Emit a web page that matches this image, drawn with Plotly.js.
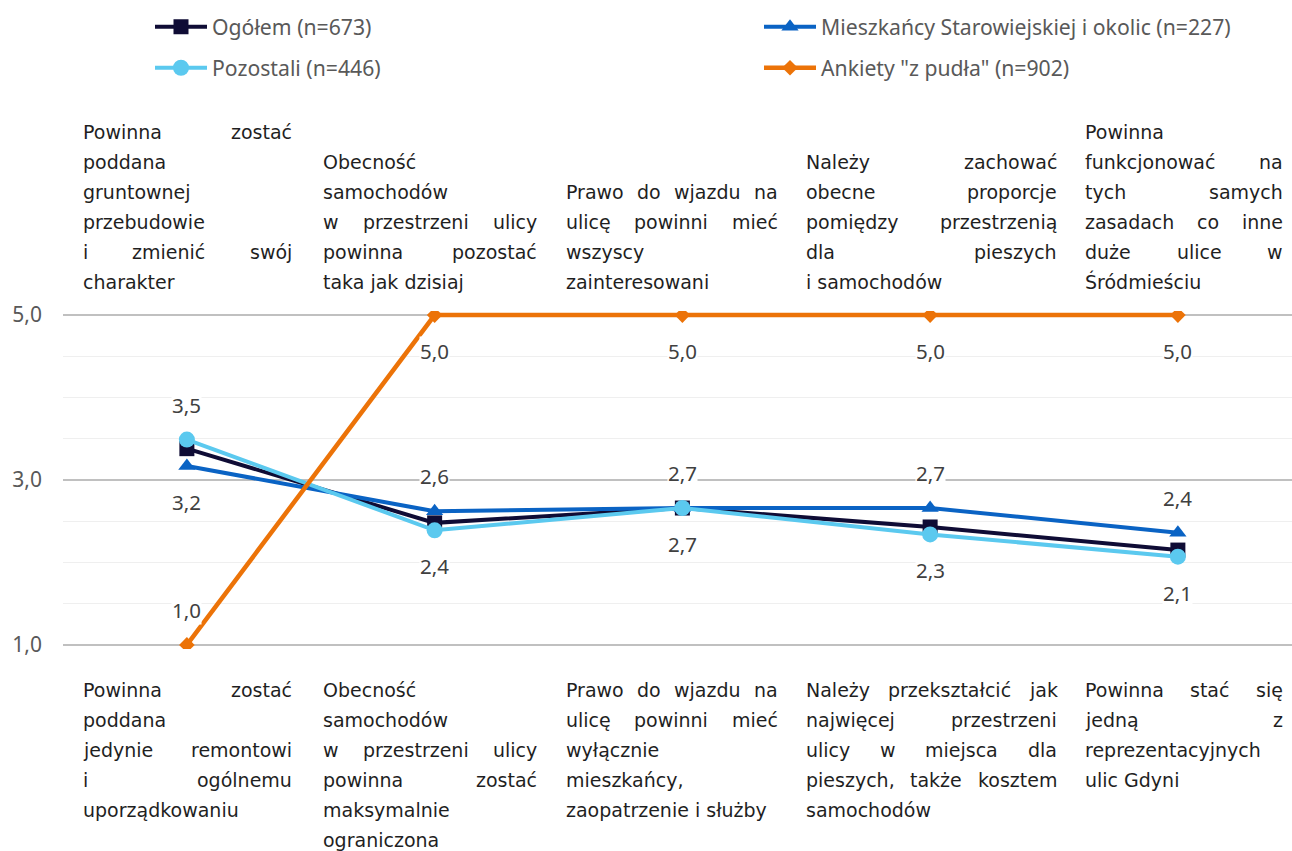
<!DOCTYPE html>
<html>
<head>
<meta charset="utf-8">
<script src="https://cdn.plot.ly/plotly-3.0.1.min.js"></script>
<style>html,body{margin:0;padding:0;background:#fff;}#chart{width:1292px;height:851px;}</style>
</head>
<body>
<div id="chart"></div>
<script>
// ---------- DATA ----------
const categories = ['K1', 'K2', 'K3', 'K4', 'K5'];
const seriesNames = ['Ogółem (n=673)', 'Mieszkańcy Starowiejskiej i okolic (n=227)', 'Pozostali (n=446)', 'Ankiety "z pudła" (n=902)'];
const ogolem     = [3.38, 2.48, 2.66, 2.43, 2.15];
const mieszkancy = [3.17, 2.62, 2.66, 2.66, 2.36];
const pozostali  = [3.49, 2.39, 2.66, 2.34, 2.07];
const ankiety    = [1.0, 5.0, 5.0, 5.0, 5.0];
// where value labels are shown
const labelsOgolem     = [null, null, null, null, null];
const labelsMieszkancy = ['below', 'above', 'above', 'above', 'above'];
const labelsPozostali  = ['above', 'below', 'below', 'below', 'below'];
const labelsAnkiety    = ['above', 'below', 'below', 'below', 'below'];
// statement texts (lines as in original)
const topLabels = [
  ['Powinna zostać', 'poddana', 'gruntownej', 'przebudowie', 'i zmienić swój', 'charakter'],
  ['Obecność', 'samochodów', 'w przestrzeni ulicy', 'powinna pozostać', 'taka jak dzisiaj'],
  ['Prawo do wjazdu na', 'ulicę powinni mieć', 'wszyscy', 'zainteresowani'],
  ['Należy zachować', 'obecne proporcje', 'pomiędzy przestrzenią', 'dla pieszych', 'i samochodów'],
  ['Powinna', 'funkcjonować na', 'tych samych', 'zasadach co inne', 'duże ulice w', 'Śródmieściu']
];
const bottomLabels = [
  ['Powinna zostać', 'poddana', 'jedynie remontowi', 'i ogólnemu', 'uporządkowaniu'],
  ['Obecność', 'samochodów', 'w przestrzeni ulicy', 'powinna zostać', 'maksymalnie', 'ograniczona'],
  ['Prawo do wjazdu na', 'ulicę powinni mieć', 'wyłącznie', 'mieszkańcy,', 'zaopatrzenie i służby'],
  ['Należy przekształcić jak', 'najwięcej przestrzeni', 'ulicy w miejsca dla', 'pieszych, także kosztem', 'samochodów'],
  ['Powinna stać się', 'jedną z', 'reprezentacyjnych', 'ulic Gdyni']
];
const yTickVals = [1, 3, 5];

// ---------- LAYOUT CONSTANTS ----------
const W = 1292, H = 851;
const M = {l: 63, r: 0, t: 311, b: 202, autoexpand: false};
const plotW = W - M.l - M.r, plotH = H - M.t - M.b;
const catPx = 247.75;
const xRange = [-0.5, -0.5 + plotW / catPx];
const yRange = [0.95, 5.05];
const boxes = [[83, 292], [323, 537], [566, 778], [806, 1057], [1085, 1283]];
const topLastLinePy = 282, bottomFirstLinePy = 690, lineGap = 30;
const textFont = {family: '"DejaVu Sans", sans-serif', size: 19, color: '#1f1f1f'};
const labelFont = {family: '"Noto Sans", sans-serif', size: 20.5, color: '#404040'};

const colors = ['#0f0c35', '#0a63c4', '#5bc9ef', '#ec7308'];
const symbols = ['square', 'triangle-up', 'circle', 'diamond'];
const sizes = [15, 15, 16, 12];
const allSeries = [ogolem, mieszkancy, pozostali, ankiety];
const allLabels = [labelsOgolem, labelsMieszkancy, labelsPozostali, labelsAnkiety];
const legendOf = ['legend', 'legend', 'legend2', 'legend2'];

const traces = allSeries.map((vals, i) => ({
  type: 'scatter', mode: 'lines+markers',
  x: categories, y: vals, name: seriesNames[i],
  legend: legendOf[i],
  line: {color: colors[i], width: i === 3 ? 4.5 : 4},
  marker: {symbol: symbols[i], size: sizes[i], color: colors[i], line: {width: 0}},
  hoverinfo: 'skip'
}));

const annotations = [];
// value labels
allSeries.forEach((vals, i) => {
  vals.forEach((v, j) => {
    const pos = allLabels[i][j];
    if (!pos) return;
    annotations.push({
      xref: 'x', yref: 'y', x: j, y: v,
      text: v.toFixed(1).replace('.', ','),
      showarrow: false, xanchor: 'center', yanchor: 'middle',
      yshift: pos === 'above' ? 35 : -36,
      font: labelFont, bgcolor: '#ffffff', borderpad: 0
    });
  });
});

// justified statement texts
const canvas = document.createElement('canvas');
const ctx = canvas.getContext('2d');
ctx.font = textFont.size + 'px ' + textFont.family;
const measure = s => ctx.measureText(s).width;
const paperX = px => (px - M.l) / plotW;
const paperY = py => (H - M.b - py) / plotH;

function addBlock(lines, box, firstPy) {
  lines.forEach((line, k) => {
    const py = firstPy + k * lineGap;
    const words = line.split(' ');
    const isLast = k === lines.length - 1;
    const base = {xref: 'paper', yref: 'paper', y: paperY(py), yanchor: 'middle',
      showarrow: false, font: textFont, borderpad: 0, borderwidth: 0};
    if (isLast || words.length < 2) {
      annotations.push(Object.assign({}, base, {x: paperX(box[0]), xanchor: 'left', text: line}));
      return;
    }
    const widths = words.map(measure);
    const sum = widths.reduce((a, b) => a + b, 0);
    let gap = (box[1] - box[0] - sum) / (words.length - 1);
    const sp = measure(' ');
    if (gap < sp) gap = sp;
    let cx = box[0];
    words.forEach((w, m) => {
      annotations.push(Object.assign({}, base, {x: paperX(cx), xanchor: 'left', text: w}));
      cx += widths[m] + gap;
    });
  });
}
topLabels.forEach((lines, i) => addBlock(lines, boxes[i], topLastLinePy - (lines.length - 1) * lineGap));
bottomLabels.forEach((lines, i) => addBlock(lines, boxes[i], bottomFirstLinePy));

const legendCommon = {
  orientation: 'h', xanchor: 'left', yanchor: 'middle',
  x: paperX(150), entrywidth: 542, entrywidthmode: 'pixels', itemwidth: 52,
  font: {family: '"Noto Sans", sans-serif', size: 21.2, color: '#595959'},
  bgcolor: 'rgba(0,0,0,0)', borderwidth: 0, traceorder: 'normal'
};

const layout = {
  width: W, height: H,
  margin: M,
  paper_bgcolor: '#ffffff', plot_bgcolor: '#ffffff',
  separators: ',.',
  showlegend: true,
  legend: Object.assign({}, legendCommon, {y: paperY(27)}),
  legend2: Object.assign({}, legendCommon, {y: paperY(68)}),
  xaxis: {type: 'category', range: xRange, showgrid: false, zeroline: false,
    showticklabels: false, showline: false, ticks: '', fixedrange: true},
  yaxis: {range: yRange, tickvals: yTickVals, tickformat: '.1f',
    showgrid: true, gridcolor: '#c0c0c0', gridwidth: 1.3, zeroline: false, showline: false,
    ticks: '', ticklabelstandoff: 20,
    tickfont: {family: '"Noto Sans", sans-serif', size: 21, color: '#595959'},
    minor: {dtick: 0.5, tick0: 1, showgrid: true, gridcolor: '#efefef', gridwidth: 1.3},
    fixedrange: true},
  annotations: annotations,
  hovermode: false
};

Plotly.newPlot('chart', traces, layout, {displayModeBar: false, staticPlot: true});
</script>
</body>
</html>
